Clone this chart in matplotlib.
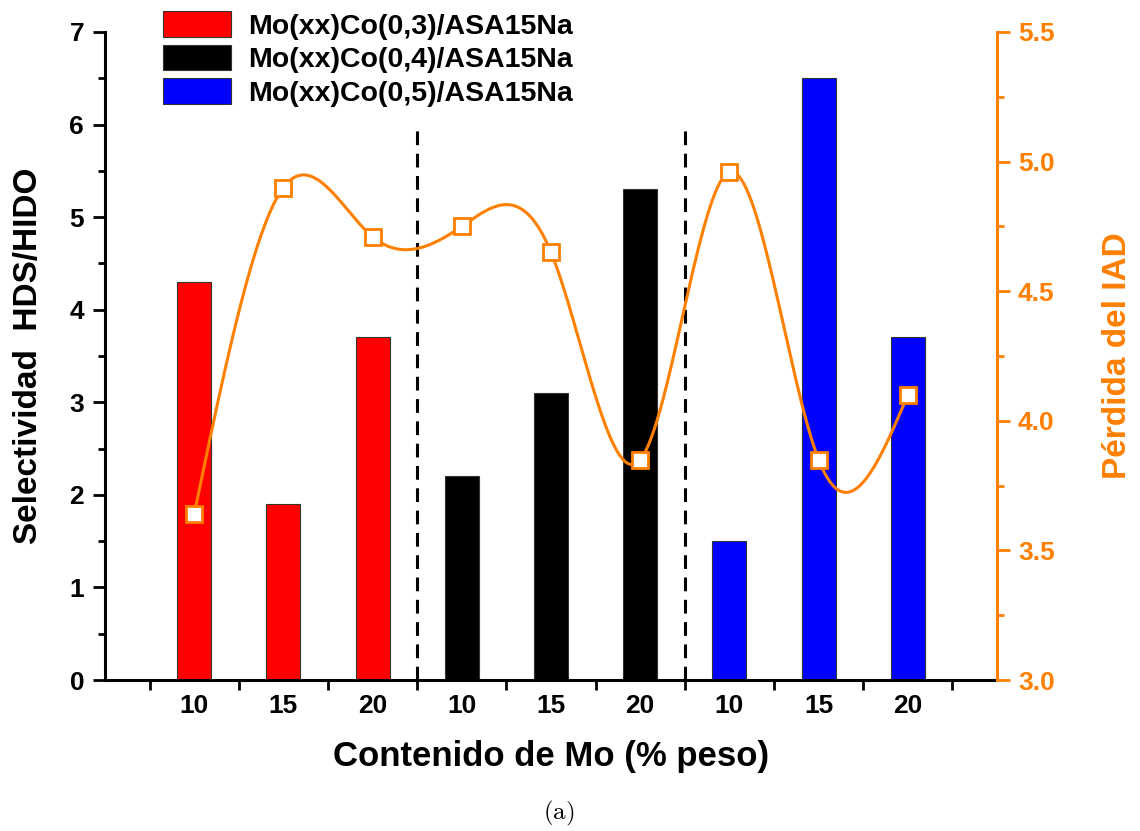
import numpy as np
import matplotlib.pyplot as plt
from matplotlib.patches import Patch

plt.rcParams['font.family'] = ['Liberation Sans', 'DejaVu Sans']
plt.rcParams['font.weight'] = 'bold'
plt.rcParams['mathtext.fontset'] = 'cm'

# selectivity bars, three series of three Mo loadings
mo_labels = ['10', '15', '20', '10', '15', '20', '10', '15', '20']
sel_co03 = [4.3, 1.9, 3.7]
sel_co04 = [2.2, 3.1, 5.3]
sel_co05 = [1.5, 6.5, 3.7]
series_names = ['Mo(xx)Co(0,3)/ASA15Na', 'Mo(xx)Co(0,4)/ASA15Na', 'Mo(xx)Co(0,5)/ASA15Na']
series_colors = ['#ff0000', '#000000', '#0000ff']

# IAD loss, right axis
iad_loss = [3.64, 4.90, 4.71, 4.75, 4.65, 3.85, 4.96, 3.85, 4.10]

orange = '#ff8000'


def natural_spline(x, y, xs):
    x = np.asarray(x, float)
    y = np.asarray(y, float)
    n = len(x)
    h = np.diff(x)
    A = np.zeros((n, n))
    b = np.zeros(n)
    A[0, 0] = 1
    A[-1, -1] = 1
    for i in range(1, n - 1):
        A[i, i - 1] = h[i - 1]
        A[i, i] = 2 * (h[i - 1] + h[i])
        A[i, i + 1] = h[i]
        b[i] = 6 * ((y[i + 1] - y[i]) / h[i] - (y[i] - y[i - 1]) / h[i - 1])
    M = np.linalg.solve(A, b)
    k = np.clip(np.searchsorted(x, xs) - 1, 0, n - 2)
    t0 = x[k + 1] - xs
    t1 = xs - x[k]
    hk = h[k]
    return (M[k] * t0**3 / (6 * hk) + M[k + 1] * t1**3 / (6 * hk)
            + (y[k] / hk - M[k] * hk / 6) * t0
            + (y[k + 1] / hk - M[k + 1] * hk / 6) * t1)


fig = plt.figure(figsize=(11.4, 8.31), dpi=100)
ax = fig.add_axes([0.0921, 0.1817, 0.7825, 0.7798])

pos = np.arange(1, 10)
groups = [sel_co03, sel_co04, sel_co05]
for g, (vals, col, name) in enumerate(zip(groups, series_colors, series_names)):
    ax.bar(pos[3 * g:3 * g + 3], vals, width=0.38, color=col,
           edgecolor='#333333', linewidth=0.8, label=name, zorder=2)

for xd in (3.5, 6.5):
    ax.plot([xd, xd], [0, 5.96], color='black', lw=2.2,
            linestyle=(0, (4.5, 2.8)), zorder=3)

ax.set_xlim(0, 10)
ax.set_ylim(0, 7)
ax.set_xticks(np.arange(0.5, 10, 1.0))
ax.set_xticklabels([])
ax.set_xticks(pos, mo_labels, minor=True)
ax.tick_params(axis='x', which='minor', length=0, pad=10, labelsize=19)
ax.tick_params(axis='x', which='major', length=7, width=2, direction='out')
ax.set_yticks(np.arange(0, 8, 1))
ax.set_yticks(np.arange(0.5, 7, 1), minor=True)
ax.tick_params(axis='y', which='major', length=9, width=2, labelsize=19, pad=6)
ax.tick_params(axis='y', which='minor', length=5, width=2)
for lab in ax.get_xticklabels(minor=True) + ax.get_yticklabels():
    lab.set_fontweight('bold')

ax.spines['top'].set_visible(False)
ax.spines['right'].set_visible(False)
ax.spines['left'].set_linewidth(2.2)
ax.spines['bottom'].set_linewidth(2.2)

ax.set_xlabel('Contenido de Mo (% peso)', fontsize=25, fontweight='bold', labelpad=16)
ax.set_ylabel('Selectividad  HDS/HIDO', fontsize=24, fontweight='bold', labelpad=18)

ax2 = ax.twinx()
ax2.set_ylim(3.0, 5.5)
ax2.set_yticks(np.arange(3.0, 5.51, 0.5))
ax2.set_yticks(np.arange(3.25, 5.5, 0.5), minor=True)
ax2.yaxis.set_major_formatter(plt.FormatStrFormatter('%.1f'))
ax2.tick_params(axis='y', which='major', length=9, width=2, labelsize=19,
                colors=orange, pad=6)
ax2.tick_params(axis='y', which='minor', length=5, width=2, colors=orange)
for lab in ax2.get_yticklabels():
    lab.set_fontweight('bold')
for side in ('top', 'left', 'bottom'):
    ax2.spines[side].set_visible(False)
ax2.spines['right'].set_color(orange)
ax2.spines['right'].set_linewidth(2.2)
ax2.set_ylabel('Pérdida del IAD', fontsize=24, fontweight='bold',
               color=orange, labelpad=34)

xs = np.linspace(1, 9, 600)
ax2.plot(xs, natural_spline(pos, iad_loss, xs), color=orange, lw=2.2, zorder=4)
ax2.plot(pos, iad_loss, linestyle='none', marker='s', ms=11, mfc='white',
         mec=orange, mew=2, zorder=5)

handles = [Patch(facecolor=c, edgecolor='#333333', linewidth=0.8) for c in series_colors]
fig.legend(handles, series_names, loc='upper left', bbox_to_anchor=(0.133, 1.0),
           frameon=False, handlelength=2.4, handleheight=1.0,
           labelspacing=0.17, handletextpad=0.6, borderaxespad=0.0,
           prop={'weight': 'bold', 'size': 20.5})

fig.text(0.49, 0.014, r'$\mathrm{(a)}$', ha='center', fontsize=18)

fig.savefig('out.png', dpi=100)
